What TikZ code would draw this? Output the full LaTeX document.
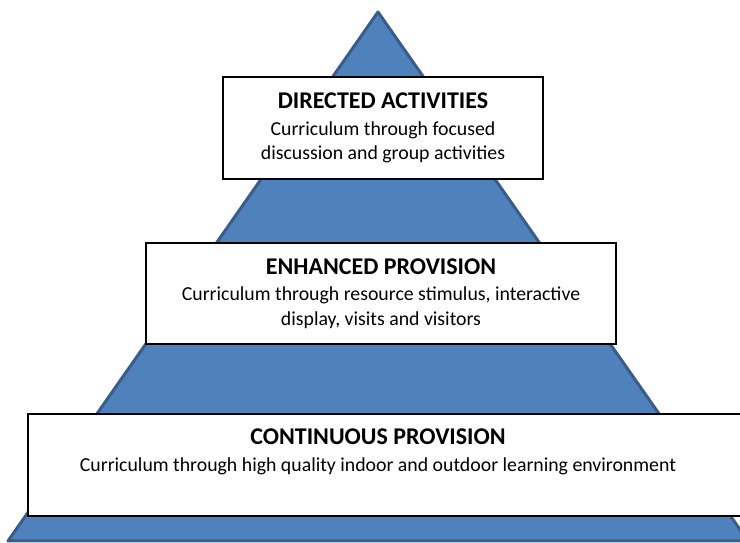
\documentclass[tikz,border=0pt]{standalone}
\usepackage{fontspec}
\setmainfont{Carlito}
\usetikzlibrary{positioning}
\definecolor{pyrblue}{RGB}{79,129,189}
\definecolor{pyredge}{RGB}{56,93,138}
\tikzset{
  tier/.style={draw=black, line width=2pt, fill=white, inner sep=0pt},
  tiertext/.style={align=center, inner sep=0pt, font=\fontsize{19.8}{24.5}\selectfont}
}
\newcommand{\tiertitle}[1]{{\fontsize{24}{28}\selectfont\bfseries #1}}

\begin{document}
\begin{tikzpicture}[x=1pt,y=1pt]
\useasboundingbox (0,0) rectangle (740,543);
\clip (0,0) rectangle (740,543);
\coordinate (apex) at (378,531);
\coordinate (baseL) at (8,2);
\coordinate (baseR) at (748,2);
\draw [pyredge, fill=pyrblue, line width=3pt, line join=round] (baseL)--(apex)--(baseR)--cycle;
\node [tier, tiertext, minimum width=320pt, minimum height=102pt] (directed) at (383,415)
  {\tiertitle{DIRECTED ACTIVITIES}\\[2pt]Curriculum through focused\\discussion and group activities};
\node [tier, tiertext, minimum width=470pt, minimum height=101pt] (enhanced) at (381,249.5)
  {\tiertitle{ENHANCED PROVISION}\\[2pt]Curriculum through resource stimulus, interactive\\display, visits and visitors};
\node [tier, minimum width=714pt, minimum height=102pt] (continuous) at (385,78) {};
\node [tiertext, below=16pt of continuous.north, xshift=-7pt] (continuous text)
  {\tiertitle{CONTINUOUS PROVISION}\\[2pt]Curriculum through high quality indoor and outdoor learning environment};
\end{tikzpicture}
\end{document}
